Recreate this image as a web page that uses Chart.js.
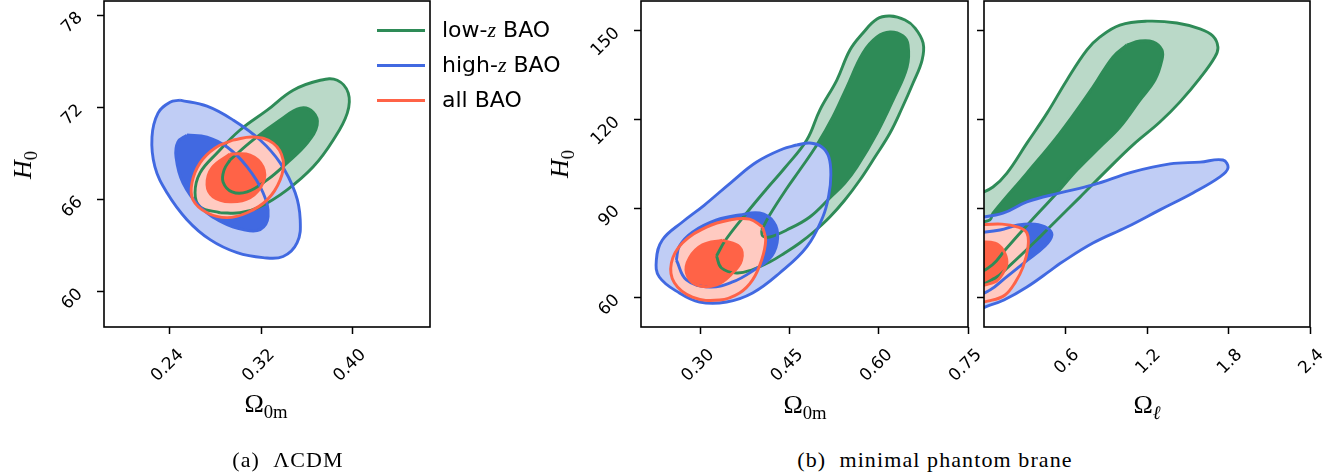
<!DOCTYPE html>
<html>
<head>
<meta charset="utf-8">
<script src="https://cdn.jsdelivr.net/npm/chart.js@4.4.0/dist/chart.umd.min.js"></script>
<style>
    body { margin: 0; background: #fff; width: 1337px; height: 475px; position: relative; overflow: hidden; }
    canvas { position: absolute; top: 0; }
    .txt { position: absolute; white-space: nowrap; color: #000; }
    .serif { font-family: 'Liberation Serif', serif; }
    .ytitle { transform: translate(-50%, -50%) rotate(-90deg); font-size: 26px; }
    .xtitle { transform: translate(-50%, -50%); font-size: 26px; }
    .sub { font-size: 0.72em; position: relative; top: 0.32em; font-style: normal; }
    .caption { transform: translate(-50%, -50%); font-size: 22px; letter-spacing: 1.1px; }
    .leg-line { position: absolute; left: 377px; width: 48px; height: 3px; }
    .leg-text { position: absolute; left: 442px; font-family: 'DejaVu Sans', sans-serif; font-size: 22px; line-height: 22px; white-space: nowrap; }
</style>
</head>
<body>

<canvas id="panelA" width="456" height="408" style="left:4px"></canvas>
<canvas id="panelB" width="457" height="408" style="left:541px"></canvas>
<canvas id="panelC" width="373" height="408" style="left:964px"></canvas>

<!-- légende -->
<div class="leg-line" style="top:29px;background:#2e8b57"></div>
<div class="leg-line" style="top:63.5px;background:#4169e1"></div>
<div class="leg-line" style="top:98.5px;background:#ff6347"></div>
<div class="leg-text" style="top:19px">low-<i class="serif">z</i> BAO</div>
<div class="leg-text" style="top:54px">high-<i class="serif">z</i> BAO</div>
<div class="leg-text" style="top:89px">all BAO</div>

<!-- titres des axes -->
<div class="txt serif ytitle" style="left:23px;top:165px"><i>H</i><span class="sub">0</span></div>
<div class="txt serif ytitle" style="left:560px;top:164px"><i>H</i><span class="sub">0</span></div>
<div class="txt serif xtitle" style="left:266px;top:404px">Ω<span class="sub">0m</span></div>
<div class="txt serif xtitle" style="left:805px;top:405px">Ω<span class="sub">0m</span></div>
<div class="txt serif xtitle" style="left:1147px;top:405px">Ω<span class="sub"><i>ℓ</i></span></div>

<!-- légendes des figures -->
<div class="txt serif caption" style="left:288px;top:460px">(a)&nbsp; ΛCDM</div>
<div class="txt serif caption" style="left:935px;top:460px">(b)&nbsp; minimal phantom brane</div>

<script>
// ==========================================
// DADOS: contornos (Ω, H0)
// ==========================================

// (a) ΛCDM
const lcdmLowOuter = [[0.284,65.14],[0.2664,65.53],[0.262,66.44],[0.2664,67.74],[0.2813,69.03],[0.3015,70.53],[0.3253,71.82],[0.3481,73.12],[0.3719,73.77],[0.3868,73.77],[0.3965,72.93],[0.3956,71.63],[0.3833,69.88],[0.3657,68.13],[0.3428,66.63],[0.3191,65.53],[0.3015,65.14]];
const lcdmLowInner = [[0.2927,68.58],[0.313,69.88],[0.3367,71.18],[0.3543,71.95],[0.3657,71.69],[0.3692,70.85],[0.3604,69.68],[0.3428,68.39],[0.3253,67.28],[0.3077,66.5],[0.2945,66.5],[0.2866,67.15],[0.2875,67.93]];
const lcdmHighOuter = [[0.2488,72.47],[0.2725,72.08],[0.2954,71.18],[0.3191,69.88],[0.3367,68.39],[0.3499,66.44],[0.3543,64.69],[0.3516,63.19],[0.3393,62.29],[0.3217,62.22],[0.2989,62.54],[0.2752,63.39],[0.2549,64.69],[0.2374,66.44],[0.2268,68.13],[0.2242,70.07],[0.2295,71.63],[0.24,72.34]];
const lcdmHighInner = [[0.2549,70.2],[0.2725,70.07],[0.2901,69.42],[0.3077,68.13],[0.3217,66.44],[0.3261,64.88],[0.3191,64.04],[0.3042,64.04],[0.2866,64.49],[0.2664,65.53],[0.2514,67.09],[0.2453,68.77],[0.247,69.75]];
const lcdmAllOuter = [[0.2954,69.88],[0.313,70.07],[0.3305,69.68],[0.3393,68.58],[0.3367,67.28],[0.3253,65.98],[0.3077,65.14],[0.2901,64.82],[0.2725,65.14],[0.2602,65.98],[0.2593,67.09],[0.2664,68.39],[0.2796,69.36]];
const lcdmAllInner = [[0.2927,68.97],[0.3103,68.9],[0.3217,68.13],[0.3217,67.09],[0.3103,66.11],[0.2927,65.85],[0.2778,66.18],[0.2725,66.96],[0.2769,68.06]];

// (b) brane, eixo Ω0m
const braneLowOuterM = [[0.327,74.05],[0.3422,79.44],[0.3776,88.54],[0.4097,96.29],[0.4417,103.71],[0.4788,113.14],[0.5008,123.25],[0.5294,133.36],[0.5514,143.47],[0.5733,149.2],[0.5969,153.92],[0.6188,154.93],[0.6441,153.58],[0.661,150.89],[0.6745,145.83],[0.6728,140.1],[0.6576,132.35],[0.6391,123.93],[0.6188,115.5],[0.5935,107.42],[0.5682,99.66],[0.5429,92.92],[0.5176,87.2],[0.4923,82.48],[0.467,78.43],[0.4417,75.06],[0.4164,72.03],[0.386,69.33],[0.3607,68.32],[0.3354,70.01]];
const braneLowInnerM = [[0.4029,82.81],[0.4164,87.87],[0.4434,96.29],[0.467,103.03],[0.4957,111.46],[0.5227,120.9],[0.5463,131.01],[0.5733,142.46],[0.5969,147.86],[0.6188,149.54],[0.6408,148.19],[0.6492,145.16],[0.6475,137.75],[0.6239,126.62],[0.5969,115.5],[0.5632,104.05],[0.5429,98.65],[0.5176,93.6],[0.4839,87.2],[0.4451,82.81],[0.4164,80.46],[0.4046,80.79]];
const braneHighOuterM = [[0.462,111.46],[0.4839,112.13],[0.5041,110.79],[0.5159,107.42],[0.5193,101.35],[0.5159,94.61],[0.5058,87.2],[0.4788,77.09],[0.4333,68.32],[0.3877,61.58],[0.3439,58.55],[0.2983,58.55],[0.2646,61.58],[0.2308,66.98],[0.2258,72.7],[0.2359,79.44],[0.2696,85.51],[0.3067,91.24],[0.3523,98.99],[0.3945,105.73],[0.4383,110.11]];
const braneHighInnerM = [[0.2595,72.7],[0.2764,66.0],[0.3152,63.6],[0.354,65.3],[0.3877,69.0],[0.4198,74.05],[0.4299,80.12],[0.4232,85.51],[0.3995,88.54],[0.3658,87.87],[0.327,86.2],[0.2865,82.1],[0.2646,77.4]];
const braneAllOuterM = [[0.4046,83.8],[0.3827,86.5],[0.3489,86.2],[0.3101,83.8],[0.2696,78.4],[0.2511,71.7],[0.2561,65.0],[0.2865,60.2],[0.3321,59.2],[0.3658,61.6],[0.3877,66.0],[0.4029,72.7],[0.4097,79.4]];
const braneAllInnerM = [[0.3371,79.4],[0.3658,77.1],[0.3692,72.7],[0.354,68.3],[0.327,64.3],[0.2933,64.3],[0.2764,68.3],[0.2814,73.4],[0.3034,77.8]];

// (b) brane, eixo Ωℓ
const braneLowOuterL = [[-0.05,94.6],[0.066,97.3],[0.169,102.0],[0.316,112.1],[0.464,122.2],[0.611,133.4],[0.758,143.5],[0.854,147.9],[1.001,151.9],[1.2,153.2],[1.42,152.6],[1.59,150.6],[1.685,148.2],[1.722,144.5],[1.7,141.1],[1.59,134.0],[1.443,126.0],[1.295,119.2],[1.097,111.5],[0.905,103.0],[0.707,93.9],[0.559,87.2],[0.412,80.5],[0.177,70.3],[0.081,66.6],[-0.05,65.0]];
const braneLowInnerL = [[1.052,145.2],[1.148,146.5],[1.244,146.2],[1.31,143.5],[1.31,140.1],[1.259,133.4],[1.148,126.6],[1.001,117.5],[0.854,110.8],[0.684,103.0],[0.523,94.6],[0.339,85.5],[0.155,76.1],[0.059,71.0],[-0.05,69.0],[-0.05,84.5],[0.044,86.2],[0.066,88.5],[0.316,102.0],[0.559,115.5],[0.802,131.0],[0.949,141.1]];
const braneHighOuterL = [[-0.05,86.9],[0.14,88.5],[0.316,92.3],[0.559,95.3],[0.802,98.0],[1.097,102.4],[1.369,105.1],[1.59,105.7],[1.759,106.4],[1.796,103.7],[1.737,100.7],[1.538,95.3],[1.295,89.6],[1.052,83.8],[0.802,78.4],[0.559,71.5],[0.493,69.3],[0.316,63.6],[0.147,59.2],[0.05,57.6],[-0.05,56.8]];
const braneHighInnerL = [[-0.05,81.8],[0.118,82.8],[0.25,84.5],[0.375,84.8],[0.464,83.5],[0.5,81.1],[0.449,77.4],[0.302,72.0],[0.155,66.6],[0.044,62.6],[-0.05,61.6]];
const braneAllOuterL = [[-0.05,84.5],[0.132,84.8],[0.25,83.8],[0.316,81.8],[0.324,77.1],[0.287,70.3],[0.228,65.0],[0.155,60.9],[0.059,59.2],[-0.05,59.2]];
const braneAllInnerL = [[-0.05,78.8],[0.081,78.4],[0.14,76.1],[0.169,72.0],[0.14,68.3],[0.081,65.3],[-0.05,65.0]];

// ticks
const ticksA_x = [0.24, 0.32, 0.40];
const labelsA_x = ['0.24', '0.32', '0.40'];
const ticksA_y = [60, 66, 72, 78];
const labelsA_y = ['60', '66', '72', '78'];
const ticksB_x = [0.30, 0.45, 0.60, 0.75];
const labelsB_x = ['0.30', '0.45', '0.60', '0.75'];
const ticksC_x = [0.6, 1.2, 1.8, 2.4];
const labelsC_x = ['0.6', '1.2', '1.8', '2.4'];
const ticksBC_y = [60, 90, 120, 150];
const labelsBC_y = ['60', '90', '120', '150'];

// cores (linha, preenchimento claro)
const GREEN = ['#2e8b57', '#bad9c8'];
const BLUE = ['#4169e1', '#c0cdf5'];
const RED = ['#ff6347', '#ffcac1'];

// fecha o contorno repetindo o primeiro ponto
function closed(arr) {
    return arr.concat([arr[0]]).map(p => ({ x: p[0], y: p[1] }));
}

// preenchimentos primeiro (verde, azul, vermelho), depois todas as linhas por cima
function contourDatasets(groups) {
    const ds = [];
    const common = { pointRadius: 0, pointHoverRadius: 0, tension: 0.4 };
    groups.forEach((g, i) => {
        ds.push({ ...common, data: closed(g.outer), fill: 'shape', backgroundColor: g.col[1], borderWidth: 0, order: 100 - i * 2 });
        ds.push({ ...common, data: closed(g.inner), fill: 'shape', backgroundColor: g.col[0], borderWidth: 0, order: 99 - i * 2 });
    });
    groups.forEach((g, i) => {
        ds.push({ ...common, data: closed(g.outer), fill: false, borderColor: g.col[0], borderWidth: 2.9, order: 50 - i * 2 });
        ds.push({ ...common, data: closed(g.inner), fill: false, borderColor: g.col[0], borderWidth: 2.9, order: 49 - i * 2 });
    });
    return ds;
}

const framePlugin = {
    id: 'frame',
    afterDraw(chart) {
        const { ctx, chartArea: a } = chart;
        ctx.save();
        ctx.strokeStyle = '#000';
        ctx.lineWidth = 1.6;
        ctx.strokeRect(a.left, a.top, a.right - a.left, a.bottom - a.top);
        ctx.restore();
    }
};

function renderPanel(id, cfg) {
    const tickFont = { family: 'DejaVu Sans', size: 17 };
    const grid = { display: true, drawOnChartArea: false, drawTicks: true, tickLength: 7, tickWidth: 1.5, tickColor: '#000' };
    new Chart(document.getElementById(id), {
        type: 'line',
        data: { datasets: contourDatasets(cfg.groups) },
        options: {
            responsive: false,
            animation: false,
            events: [],
            layout: { padding: { top: 1, right: cfg.padRight, left: 0, bottom: 0 } },
            plugins: { legend: { display: false }, tooltip: { enabled: false } },
            scales: {
                x: {
                    type: 'linear', min: cfg.xMin, max: cfg.xMax,
                    grid: grid, border: { display: false },
                    afterBuildTicks: s => { s.ticks = cfg.xTicks.map(v => ({ value: v })); },
                    afterFit: s => { s.height = 81; s.paddingLeft = 0; s.paddingRight = 0; },
                    ticks: {
                        autoSkip: false, minRotation: 45, maxRotation: 45,
                        padding: 11, labelOffset: 11, color: '#000', font: tickFont,
                        callback: (v, i) => cfg.xLabels[i]
                    }
                },
                y: {
                    type: 'linear', min: cfg.yMin, max: cfg.yMax,
                    grid: grid, border: { display: false },
                    afterBuildTicks: s => { s.ticks = cfg.yTicks.map(v => ({ value: v })); },
                    afterFit: s => { s.width = cfg.yWidth; s.paddingTop = 0; s.paddingBottom = 0; },
                    ticks: {
                        display: cfg.yLabels !== null,
                        autoSkip: false, minRotation: 45, maxRotation: 45,
                        padding: 17, color: '#000', font: tickFont,
                        callback: (v, i) => cfg.yLabels ? cfg.yLabels[i] : ''
                    }
                }
            }
        },
        plugins: [framePlugin]
    });
}

// ================== INIT ==================
renderPanel('panelA', {
    groups: [
        { outer: lcdmLowOuter, inner: lcdmLowInner, col: GREEN },
        { outer: lcdmHighOuter, inner: lcdmHighInner, col: BLUE },
        { outer: lcdmAllOuter, inner: lcdmAllInner, col: RED }
    ],
    xMin: 0.1821, xMax: 0.4682, yMin: 57.70, yMax: 78.93,
    xTicks: ticksA_x, xLabels: labelsA_x, yTicks: ticksA_y, yLabels: labelsA_y,
    yWidth: 100, padRight: 30
});

renderPanel('panelB', {
    groups: [
        { outer: braneLowOuterM, inner: braneLowInnerM, col: GREEN },
        { outer: braneHighOuterM, inner: braneHighInnerM, col: BLUE },
        { outer: braneAllOuterM, inner: braneAllInnerM, col: RED }
    ],
    xMin: 0.2, xMax: 0.75, yMin: 50.12, yMax: 160.0,
    xTicks: ticksB_x, xLabels: labelsB_x, yTicks: ticksBC_y, yLabels: labelsBC_y,
    yWidth: 100, padRight: 30
});

renderPanel('panelC', {
    groups: [
        { outer: braneLowOuterL, inner: braneLowInnerL, col: GREEN },
        { outer: braneHighOuterL, inner: braneHighInnerL, col: BLUE },
        { outer: braneAllOuterL, inner: braneAllInnerL, col: RED }
    ],
    xMin: 0, xMax: 2.4, yMin: 50.12, yMax: 160.0,
    xTicks: ticksC_x, xLabels: labelsC_x, yTicks: ticksBC_y, yLabels: null,
    yWidth: 20, padRight: 27
});
</script>
</body>
</html>
